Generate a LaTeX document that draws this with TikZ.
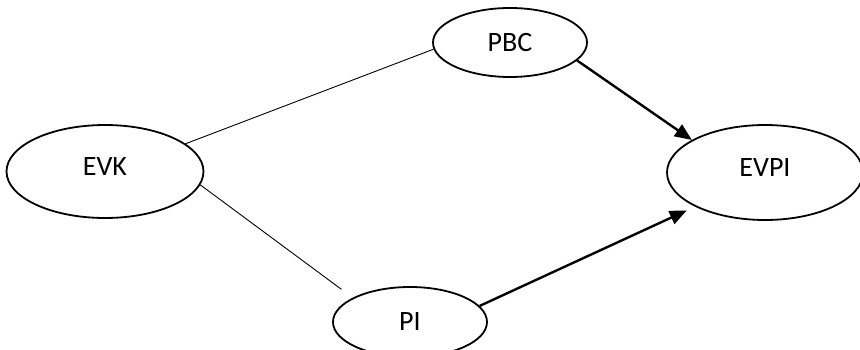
\documentclass[tikz,border=0pt]{standalone}
\usepackage{fontspec}
\setmainfont{Carlito}
\usetikzlibrary{shapes.geometric,arrows.meta}
\begin{document}
\begin{tikzpicture}[x=1pt,y=-1pt,
  oval/.style={ellipse,draw,line width=1.8pt,inner sep=0pt,font=\fontsize{28}{32}\selectfont},
  raised/.style={text depth=9pt},
  thinlink/.style={line width=0.9pt},
  arrowlink/.style={line width=2.4pt,-{Triangle[length=17pt,width=14pt]}}]
\useasboundingbox (0,0) rectangle (860,350);
\clip (0,0) rectangle (860,350);
\node[oval,minimum width=154pt,minimum height=69pt] (pbc) at (510,42.5) {PBC};
\node[oval,raised,minimum width=197pt,minimum height=93pt] (evk) at (105,171.5) {EVK};
\node[oval,raised,minimum width=196pt,minimum height=95pt] (evpi) at (765,172.5) {EVPI};
\node[oval,minimum width=154pt,minimum height=70pt] (pi) at (410,322) {PI};
\draw[thinlink] (evk.19) -- (pbc.185.6);
\draw[thinlink,shorten >=14pt] (evk.-8.5) -- (pi.157);
\draw[arrowlink] (pbc.-15) -- (evpi.156.6);
\draw[arrowlink,shorten >=9pt] (pi.13.6) -- (evpi.206);
\end{tikzpicture}
\end{document}
